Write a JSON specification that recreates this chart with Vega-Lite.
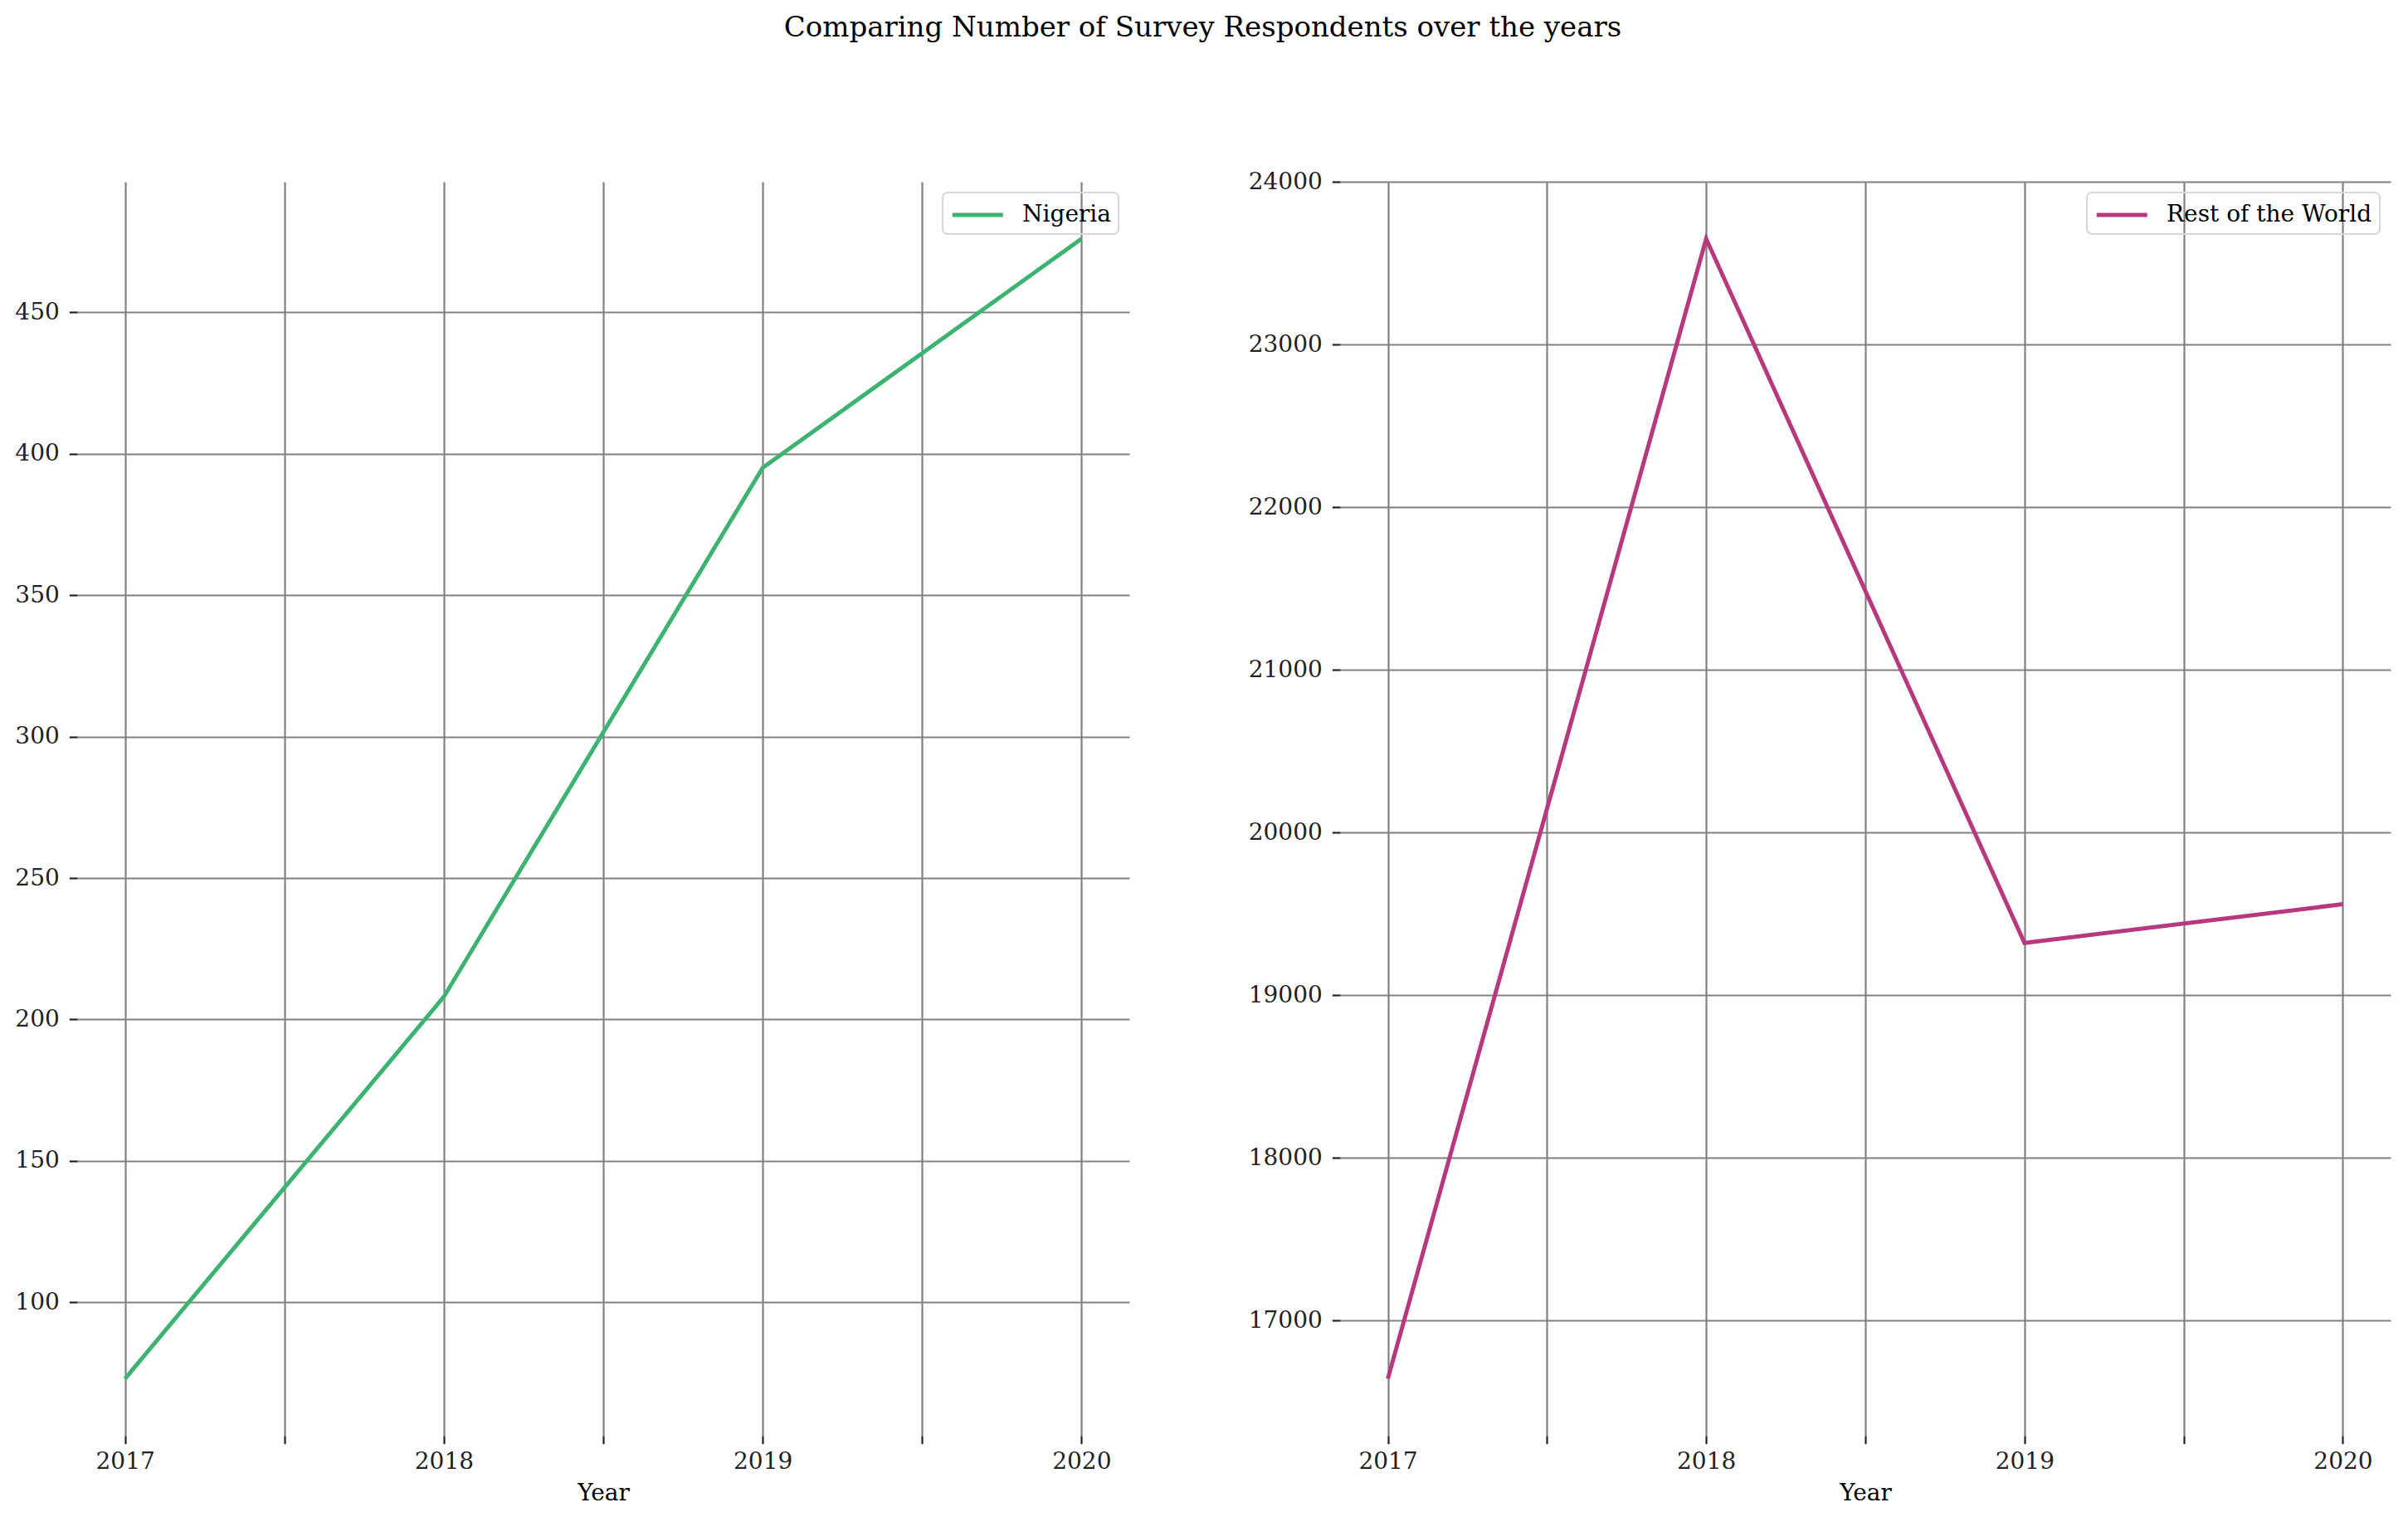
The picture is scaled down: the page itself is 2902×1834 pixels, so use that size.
{
  "$schema": "https://vega.github.io/schema/vega-lite/v6.json",
  "padding": {"left": 17, "top": 17, "right": 5, "bottom": 5},
  "title": {
    "text": "Comparing Number of Survey Respondents over the years",
    "fontSize": 34,
    "font": "DejaVu Serif",
    "fontWeight": "normal",
    "color": "#000000",
    "anchor": "middle",
    "offset": 154
  },
  "data": {
    "values": [
      {"Year": 2017, "Respondents": 73, "Group": "Nigeria"},
      {"Year": 2018, "Respondents": 208, "Group": "Nigeria"},
      {"Year": 2019, "Respondents": 395, "Group": "Nigeria"},
      {"Year": 2020, "Respondents": 476, "Group": "Nigeria"},
      {"Year": 2017, "Respondents": 16643, "Group": "Rest of the World"},
      {"Year": 2018, "Respondents": 23651, "Group": "Rest of the World"},
      {"Year": 2019, "Respondents": 19322, "Group": "Rest of the World"},
      {"Year": 2020, "Respondents": 19560, "Group": "Rest of the World"}
    ]
  },
  "spacing": 143,
  "hconcat": [
    {
      "width": 1268,
      "height": 1511,
      "transform": [{"filter": "datum.Group === 'Nigeria'"}],
      "mark": {"type": "line", "strokeWidth": 5},
      "encoding": {
        "x": {
          "field": "Year",
          "type": "quantitative",
          "scale": {"domain": [2016.85, 2020.15], "nice": false, "zero": false},
          "axis": {
            "title": "Year",
            "values": [2017, 2017.5, 2018, 2018.5, 2019, 2019.5, 2020],
            "labelExpr": "datum.value % 1 === 0 ? '' + datum.value : ''"
          }
        },
        "y": {
          "field": "Respondents",
          "type": "quantitative",
          "scale": {"domain": [52.85, 496.15], "nice": false, "zero": false},
          "axis": {"title": null, "values": [100, 150, 200, 250, 300, 350, 400, 450]}
        },
        "color": {
          "field": "Group",
          "type": "nominal",
          "scale": {"domain": ["Nigeria"], "range": ["#3cb371"]},
          "legend": {"title": null, "orient": "top-right"}
        }
      }
    },
    {
      "width": 1266,
      "height": 1511,
      "transform": [{"filter": "datum.Group === 'Rest of the World'"}],
      "mark": {"type": "line", "strokeWidth": 5},
      "encoding": {
        "x": {
          "field": "Year",
          "type": "quantitative",
          "scale": {"domain": [2016.85, 2020.15], "nice": false, "zero": false},
          "axis": {
            "title": "Year",
            "values": [2017, 2017.5, 2018, 2018.5, 2019, 2019.5, 2020],
            "labelExpr": "datum.value % 1 === 0 ? '' + datum.value : ''"
          }
        },
        "y": {
          "field": "Respondents",
          "type": "quantitative",
          "scale": {"domain": [16292.6, 24001.4], "nice": false, "zero": false},
          "axis": {"title": null, "values": [17000, 18000, 19000, 20000, 21000, 22000, 23000, 24000], "format": "d"}
        },
        "color": {
          "field": "Group",
          "type": "nominal",
          "scale": {"domain": ["Rest of the World"], "range": ["#b7387f"]},
          "legend": {"title": null, "orient": "top-right"}
        }
      }
    }
  ],
  "resolve": {
    "scale": {"color": "independent", "x": "independent", "y": "independent"},
    "legend": {"color": "independent"}
  },
  "config": {
    "font": "DejaVu Serif",
    "view": {"stroke": null},
    "axis": {
      "domain": false,
      "grid": true,
      "gridColor": "#808080",
      "gridWidth": 2.2,
      "gridOpacity": 1,
      "tickColor": "#222222",
      "tickWidth": 2.2,
      "tickSize": 9.7,
      "labelFont": "DejaVu Serif",
      "labelFontSize": 28,
      "labelColor": "#222222",
      "titleFont": "DejaVu Serif",
      "titleFontSize": 28,
      "titleFontWeight": "normal",
      "titleColor": "#000000"
    },
    "axisX": {"labelPadding": 8, "titlePadding": 10},
    "axisY": {"labelPadding": 12},
    "legend": {
      "labelFont": "DejaVu Serif",
      "labelFontSize": 28,
      "labelColor": "#000000",
      "labelLimit": 600,
      "symbolType": "M-1,0H3",
      "symbolSize": 930,
      "symbolStrokeWidth": 5,
      "labelOffset": 51,
      "padding": 9,
      "offset": 13,
      "strokeColor": "#d6d6d6",
      "strokeWidth": 2,
      "cornerRadius": 6
    }
  }
}
